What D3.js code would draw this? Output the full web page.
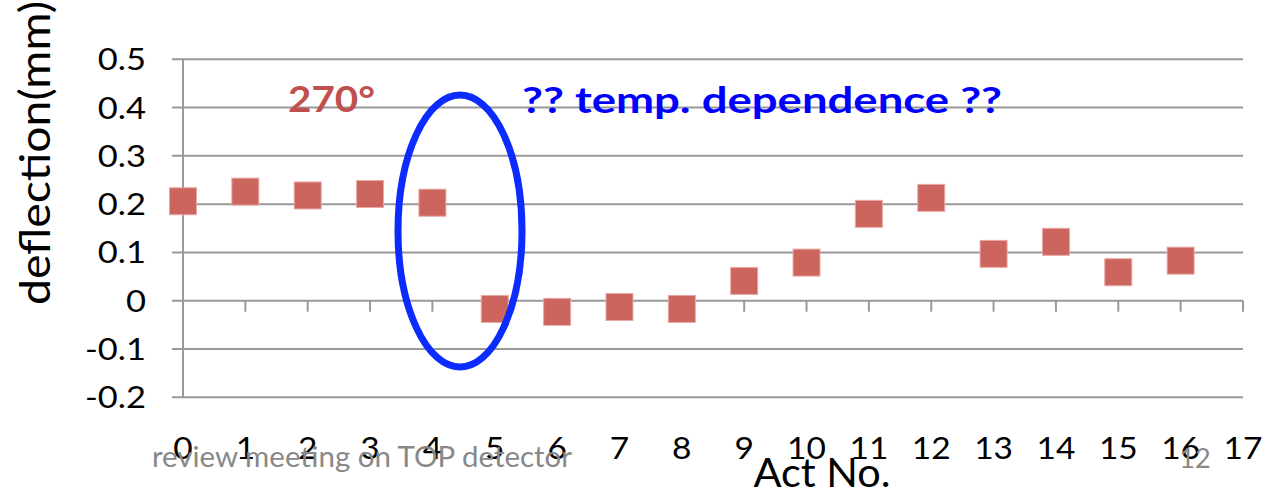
<!DOCTYPE html>
<html><head><meta charset="utf-8">
<script src="https://cdn.jsdelivr.net/npm/d3@7"></script>
<style>body{margin:0;background:#fff}svg{display:block}text{font-family:Lato,"Open Sans",sans-serif}</style>
</head><body>
<svg id="c" width="1274" height="492"></svg>
<script>
const acts = [0,1,2,3,4,5,6,7,8,9,10,11,12,13,14,15,16];
const deflection = [0.206,0.226,0.218,0.221,0.203,-0.017,-0.023,-0.013,-0.017,0.041,0.079,0.180,0.213,0.097,0.122,0.059,0.083];
const yTicks = [-0.2,-0.1,0,0.1,0.2,0.3,0.4,0.5];
const yTickLabels = ["-0.2","-0.1","0","0.1","0.2","0.3","0.4","0.5"];
const xTicks = d3.range(0,18);

const svg = d3.select("#c");
const x = d3.scaleLinear().domain([0,17]).range([183,1243]);
const y = d3.scaleLinear().domain([-0.2,0.5]).range([397.3,59.3]);
const grid = "#999";

svg.append("g").selectAll("line").data(yTicks).join("line")
  .attr("x1",172).attr("x2",1243).attr("y1",d=>y(d)).attr("y2",d=>y(d))
  .attr("stroke",grid).attr("stroke-width",2);
svg.append("line").attr("x1",x(0)).attr("x2",x(0)).attr("y1",y(0.5)).attr("y2",y(-0.2))
  .attr("stroke",grid).attr("stroke-width",2);
svg.append("g").selectAll("line").data(xTicks.filter(d=>d>0)).join("line")
  .attr("x1",d=>x(d)).attr("x2",d=>x(d)).attr("y1",y(0)).attr("y2",y(0)+11)
  .attr("stroke",grid).attr("stroke-width",2);

// y tick labels (slightly wide glyphs like the reference)
svg.append("g").selectAll("text").data(yTicks).join("text")
  .attr("transform",d=>`translate(146,${y(d)+11}) scale(1.15,1)`).attr("text-anchor","end")
  .attr("font-size",30).attr("fill","#000").text((d,i)=>yTickLabels[i]);
// x tick labels
svg.append("g").selectAll("text").data(xTicks).join("text")
  .attr("transform",d=>`translate(${x(d)},459) scale(1.08,1)`).attr("text-anchor","middle")
  .attr("font-size",31).attr("fill","#000").text(d=>d);

// footer
svg.append("text").attr("x",152).attr("y",467).attr("font-size",29).attr("fill","#888")
  .attr("textLength",420).attr("lengthAdjust","spacingAndGlyphs")
  .text("review meeting on TOP detector");
svg.append("text").attr("x",1195).attr("y",468).attr("text-anchor","middle").attr("font-size",27).attr("fill","#888").text("12");

// axis titles
svg.append("text").attr("transform","translate(50,153) rotate(-90)").attr("text-anchor","middle")
  .attr("font-size",42).attr("fill","#000")
  .attr("textLength",304).attr("lengthAdjust","spacingAndGlyphs").text("deflection(mm)");
svg.append("text").attr("x",822).attr("y",487).attr("text-anchor","middle")
  .attr("font-size",41).attr("fill","#000")
  .attr("textLength",137).attr("lengthAdjust","spacingAndGlyphs").text("Act No.");

// points
const s = 27;
svg.append("g").selectAll("rect").data(acts).join("rect")
  .attr("x",d=>x(d)-s/2).attr("y",(d,i)=>y(deflection[i])-s/2)
  .attr("width",s).attr("height",s)
  .attr("fill","#cc655e").attr("stroke","#e8a9a5").attr("stroke-width",1);

// annotations
svg.append("text").attr("x",288).attr("y",112).attr("font-size",37).attr("font-weight","bold")
  .attr("fill","#c0504d").attr("textLength",87).attr("lengthAdjust","spacingAndGlyphs").text("270°");
svg.append("text").attr("x",522).attr("y",113).attr("font-size",37).attr("font-weight","bold")
  .attr("fill","#0000ff").attr("textLength",480).attr("lengthAdjust","spacingAndGlyphs").text("?? temp. dependence ??");
svg.append("ellipse").attr("cx",460).attr("cy",231).attr("rx",62).attr("ry",136)
  .attr("fill","none").attr("stroke","#0b2bff").attr("stroke-width",7);
</script>
</body></html>
